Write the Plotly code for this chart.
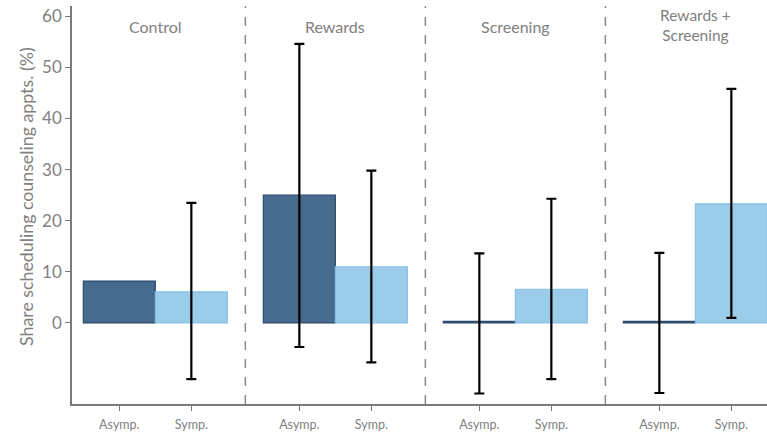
import plotly.graph_objects as go

# Treatment arms and symptom groups
arms = ["Control", "Rewards", "Screening", "Rewards + Screening"]
arm_titles = ["Control", "Rewards", "Screening", "Rewards +<br>Screening"]
groups = ["Asymp.", "Symp."]

# Share scheduling counseling appointments (%), by arm
asymp_share = [8.2, 25.0, 0.3, 0.3]
symp_share = [6.1, 11.0, 6.6, 23.3]

# Confidence interval bounds (None where no interval is shown)
asymp_lo = [None, -4.7, -13.8, -13.7]
asymp_hi = [None, 54.6, 13.6, 13.7]
symp_lo = [-11.0, -7.7, -11.0, 1.0]
symp_hi = [23.5, 29.8, 24.3, 45.8]

DARK = "#476b8c"
DARK_EDGE = "#2b4a6b"
LIGHT = "#9bcdeb"
LIGHT_EDGE = "#88c1e8"
GREY = "#808080"
FONT = "Lato"

off = 0.2
bw = 0.4
pos = list(range(len(arms)))
x_asymp = [p - off for p in pos]
x_symp = [p + off for p in pos]

fig = go.Figure()
fig.add_trace(go.Bar(x=x_asymp, y=asymp_share, width=bw,
                     marker=dict(color=DARK, line=dict(color=DARK_EDGE, width=1.2)),
                     showlegend=False, hoverinfo="skip"))
fig.add_trace(go.Bar(x=x_symp, y=symp_share, width=bw,
                     marker=dict(color=LIGHT, line=dict(color=LIGHT_EDGE, width=1.2)),
                     showlegend=False, hoverinfo="skip"))


def add_ci(xs, ys, lo, hi):
    px, py, up, dn = [], [], [], []
    for x, y, l, h in zip(xs, ys, lo, hi):
        if l is None:
            continue
        px.append(x)
        py.append(y)
        up.append(h - y)
        dn.append(y - l)
    fig.add_trace(go.Scatter(
        x=px, y=py, mode="markers", marker=dict(size=1, opacity=0),
        error_y=dict(type="data", symmetric=False, array=up, arrayminus=dn,
                     color="black", thickness=2.2, width=5),
        showlegend=False, hoverinfo="skip"))


add_ci(x_asymp, asymp_share, asymp_lo, asymp_hi)
add_ci(x_symp, symp_share, symp_lo, symp_hi)

# Dashed separators between arms
for p in pos[:-1]:
    fig.add_shape(type="line", xref="x", yref="paper", x0=p + 0.5, x1=p + 0.5,
                  y0=0, y1=1, line=dict(color="#8a8a8a", width=1.5, dash="dash"),
                  layer="below")

# Arm titles
for p, t in zip(pos, arm_titles):
    two_line = "<br>" in t
    fig.add_annotation(x=p, y=1, xref="x", yref="paper", text=t, showarrow=False,
                       yanchor="middle", yshift=-20 + (1 if two_line else 0),
                       font=dict(family=FONT, size=15.5 if two_line else 16, color=GREY))

# Y axis title
fig.add_annotation(x=-0.085, y=0.5226, xref="paper", yref="paper", textangle=-90,
                   text="Share scheduling counseling appts. (%)", showarrow=False,
                   font=dict(family=FONT, size=17.8, color=GREY))

tickvals = []
ticktext = []
for p in pos:
    tickvals += [p - off, p + off]
    ticktext += groups

fig.update_layout(
    width=767, height=436,
    margin=dict(l=72, r=0, t=6, b=32),
    plot_bgcolor="white", paper_bgcolor="white",
    barmode="overlay",
    xaxis=dict(range=[-0.463, 3.398], tickvals=tickvals, ticktext=ticktext,
               showgrid=False, zeroline=False, showline=True, linecolor="#7a7a7a",
               linewidth=1.5, ticks="outside", ticklen=5, tickcolor="#7a7a7a",
               ticklabelstandoff=3,
               tickfont=dict(family=FONT, size=12.5, color=GREY)),
    yaxis=dict(range=[-15.85, 62.0], tickvals=[0, 10, 20, 30, 40, 50, 60],
               showgrid=False, zeroline=False, showline=True, linecolor="#7a7a7a",
               linewidth=1.5, ticks="outside", ticklen=5, tickcolor="#7a7a7a",
               tickfont=dict(family=FONT, size=17, color=GREY)),
)

fig.write_html("out.html")
